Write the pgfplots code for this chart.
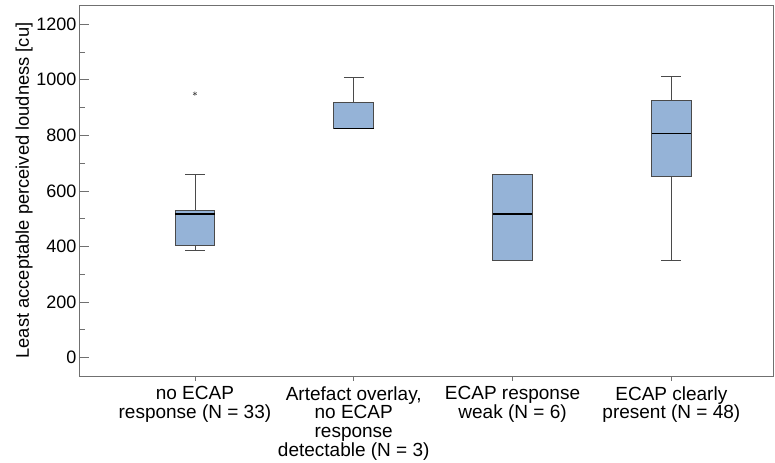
\documentclass[border=0pt]{standalone}
\usepackage{pgfplots}
\pgfplotsset{compat=1.18}
\usepackage{fontspec}
\setmainfont{Liberation Sans}

\definecolor{boxblue}{HTML}{95B3D7}
\definecolor{boxedge}{HTML}{4A4A4A}
\definecolor{framegray}{HTML}{707070}

\pgfplotsset{
  whisk/.style={draw=boxedge, line width=0.8pt, no marks},
  boxst/.style={draw=boxedge, fill=boxblue, line width=0.8pt, line join=miter, no marks},
  med/.style={draw=black, line width=1.3pt, no marks},
}

\begin{document}
\begin{tikzpicture}
\begin{axis}[
  scale only axis,
  width=694pt, height=371pt,
  xmin=0.27, xmax=4.64,
  ymin=-66, ymax=1269,
  axis line style={framegray, line width=0.8pt},
  font=\fontsize{18}{18}\selectfont,
  /pgf/number format/assume math mode=true,
  /pgf/number format/1000 sep={},
  ytick={0,200,...,1200},
  minor ytick={100,300,...,1100},
  ytick style={framegray, line width=0.8pt},
  major tick length=10pt,
  minor tick length=6pt,
  ytick pos=left,
  ytick align=inside,
  yticklabel style={font=\fontsize{18}{18}\selectfont, xshift=1pt},
  xtick=\empty,
  extra x ticks={1,2,3,4},
  extra x tick labels={
    {no ECAP\\response (N = 33)},
    {Artefact overlay,\\no ECAP\\response\\detectable (N = 3)},
    {ECAP response\\weak (N = 6)},
    {ECAP clearly\\present (N = 48)}},
  extra x tick style={major tick length=5pt, tick align=outside, tick pos=bottom,
    tick style={framegray, line width=0.8pt},
    tick label style={align=center, font=\fontsize{19}{18.7}\selectfont, yshift=-2pt}},
  ylabel={Least acceptable perceived loudness [cu]},
  ylabel style={font=\fontsize{18.3}{20}\selectfont, yshift=-3pt},
]
% --- no ECAP response (N = 33): q1 405, median 517, q3 531, whiskers 387/660
\addplot[whisk] coordinates {(1,531) (1,660)};
\addplot[whisk] coordinates {(0.9375,660) (1.0625,660)};
\addplot[whisk] coordinates {(1,405) (1,387)};
\addplot[whisk] coordinates {(0.9375,387) (1.0625,387)};
\addplot[boxst] coordinates {(0.875,405) (1.125,405) (1.125,531) (0.875,531)} -- cycle;
\addplot[med] coordinates {(0.875,517) (1.125,517)};
\addplot[only marks, mark=asterisk, mark size=2.2pt, mark options={boxedge, line width=0.5pt}]
  coordinates {(1,950)};
% --- artefact overlay (N = 3): q1 = median = 825, q3 920, upper whisker 1010
\addplot[whisk] coordinates {(2,920) (2,1010)};
\addplot[whisk] coordinates {(1.9375,1010) (2.0625,1010)};
\addplot[boxst] coordinates {(1.875,825) (2.125,825) (2.125,920) (1.875,920)} -- cycle;
\addplot[med] coordinates {(1.875,825) (2.125,825)};
% --- ECAP response weak (N = 6): q1 349, median 517, q3 659
\addplot[boxst] coordinates {(2.875,349) (3.125,349) (3.125,659) (2.875,659)} -- cycle;
\addplot[med] coordinates {(2.875,517) (3.125,517)};
% --- ECAP clearly present (N = 48): q1 651, median 807, q3 927, whiskers 349/1012
\addplot[whisk] coordinates {(4,927) (4,1012)};
\addplot[whisk] coordinates {(3.9375,1012) (4.0625,1012)};
\addplot[whisk] coordinates {(4,651) (4,349)};
\addplot[whisk] coordinates {(3.9375,349) (4.0625,349)};
\addplot[boxst] coordinates {(3.875,651) (4.125,651) (4.125,927) (3.875,927)} -- cycle;
\addplot[med] coordinates {(3.875,807) (4.125,807)};
\end{axis}
\pgfresetboundingbox
\path ([shift={(-79pt,-87pt)}]current axis.south west)
  rectangle ([shift={(2pt,5pt)}]current axis.north east);
\end{tikzpicture}
\end{document}
